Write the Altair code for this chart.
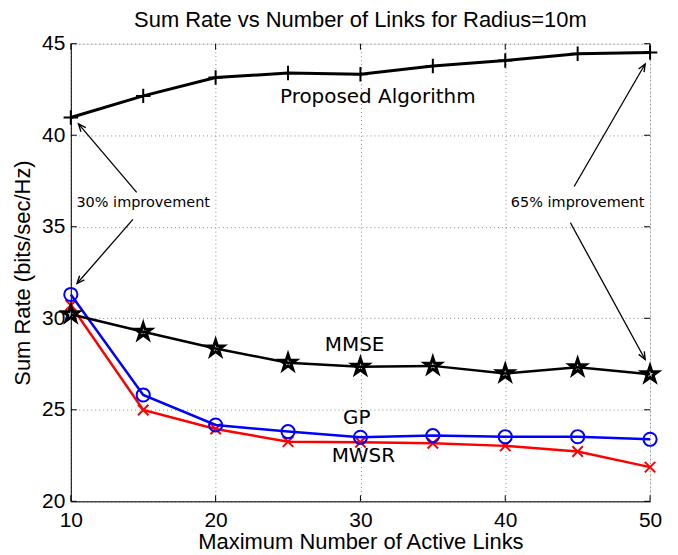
import math
import altair as alt
import pandas as pd

# ---------------- data ----------------
links = [10, 15, 20, 25, 30, 35, 40, 45, 50]
proposed = [40.97, 42.15, 43.15, 43.40, 43.33, 43.78, 44.08, 44.45, 44.52]
mmse = [30.22, 29.26, 28.35, 27.57, 27.35, 27.40, 26.99, 27.32, 26.94]
gp = [31.30, 25.81, 24.17, 23.81, 23.50, 23.59, 23.53, 23.53, 23.39]
mwsr = [30.71, 24.99, 23.95, 23.26, 23.23, 23.17, 23.03, 22.72, 21.87]

series_names = ["Proposed Algorithm", "MMSE", "GP", "MWSR"]
x_ticks = [10, 20, 30, 40, 50]
y_ticks = [20, 25, 30, 35, 40, 45]

# annotation labels (text, x, y in data units)
label_text = ["Proposed Algorithm", "MMSE", "GP", "MWSR", "30% improvement", "65% improvement"]
label_x = [31.2, 29.6, 29.75, 30.2, 15.0, 45.0]
label_y = [42.08, 28.53, 24.55, 22.48, 36.28, 36.28]
label_size = [20, 20, 20, 20, 14.5, 14.5]

# arrows (start -> tip, data units)
arrow_x1 = [14.55, 14.29, 44.76, 44.50]
arrow_y1 = [36.88, 35.40, 37.20, 35.22]
arrow_x2 = [10.53, 10.43, 49.66, 49.66]
arrow_y2 = [40.62, 31.90, 43.89, 27.75]

# ---------------- layout ----------------
W, H = 581, 459
X_DOM = [10, 50]
Y_DOM = [20, 45]
FONT = "Liberation Sans"

xs = alt.Scale(domain=X_DOM, nice=False, zero=False)
ys = alt.Scale(domain=Y_DOM, nice=False, zero=False)

rows = []
for name, vals in zip(series_names, [proposed, mmse, gp, mwsr]):
    for l, v in zip(links, vals):
        rows.append({"series": name, "links": l, "rate": v})
df = pd.DataFrame(rows)

x_axis = alt.Axis(values=x_ticks, title="Maximum Number of Active Links", ticks=False,
                  labelPadding=8, labelFont=FONT, labelFontSize=21, labelColor="black",
                  labelFlush=False, titleFont=FONT, titleFontSize=22, titleFontWeight="normal",
                  titleColor="black", titlePadding=1, grid=True, gridColor="#8a8a8a",
                  gridDash=[1, 3], gridWidth=1, domainColor="black", domainWidth=1,
                  format="d")
y_axis = alt.Axis(values=y_ticks, title="Sum Rate (bits/sec/Hz)", ticks=False,
                  labelPadding=6, labelFont=FONT, labelFontSize=21, labelColor="black",
                  labelFlush=False, titleFont=FONT, titleFontSize=22, titleFontWeight="normal",
                  titleColor="black", titlePadding=7, grid=True, gridColor="#8a8a8a",
                  gridDash=[1, 3], gridWidth=1, domainColor="black", domainWidth=1,
                  format="d")


def X(field):
    return alt.X(field, scale=xs, axis=x_axis)


def Y(field):
    return alt.Y(field, scale=ys, axis=y_axis)


base = alt.Chart(df)

styles = {
    "Proposed Algorithm": dict(color="#000000", width=3.0, shape="M -1 0 L 1 0 M 0 -1 L 0 1",
                               size=210, sw=2),
    "MMSE": dict(color="#000000", width=2.5,
                 shape="M 0 -1 L 0.2245 -0.309 L 0.951 -0.309 L 0.363 0.118 L 0.588 0.809 L 0 0.382 L -0.588 0.809 L -0.363 0.118 L -0.951 -0.309 L -0.2245 -0.309 Z",
                 size=270, sw=3),
    "GP": dict(color="#0000ff", width=2.5, shape="circle", size=175, sw=2),
    "MWSR": dict(color="#ff0000", width=2.5, shape="M -1 -1 L 1 1 M -1 1 L 1 -1", size=110, sw=2),
}

layers = []

# inward tick marks
xt = pd.DataFrame({"t": x_ticks})
yt = pd.DataFrame({"t": y_ticks})
for y0, y1 in [(H, H - 6), (0, 6)]:
    layers.append(alt.Chart(xt).mark_rule(color="black", strokeWidth=1).encode(
        x=X("t:Q"), y=alt.value(y0), y2=alt.value(y1)))
for x0, x1 in [(0, 6), (W, W - 6)]:
    layers.append(alt.Chart(yt).mark_rule(color="black", strokeWidth=1).encode(
        y=Y("t:Q"), x=alt.value(x0), x2=alt.value(x1)))

for name in ["MWSR", "GP", "MMSE", "Proposed Algorithm"]:
    st = styles[name]
    sub = base.transform_filter(alt.datum.series == name)
    layers.append(sub.mark_line(color=st["color"], strokeWidth=st["width"]).encode(
        x=X("links:Q"), y=Y("rate:Q")))
    layers.append(sub.mark_point(shape=st["shape"], size=st["size"], filled=False,
                                 color=st["color"], strokeWidth=st["sw"], opacity=1,
                                 strokeJoin="miter").encode(
        x=X("links:Q"), y=Y("rate:Q")))

# annotation text
lab_df = pd.DataFrame({"text": label_text, "x": label_x, "y": label_y, "size": label_size})
for sz in sorted(set(label_size)):
    layers.append(alt.Chart(lab_df).transform_filter(alt.datum.size == sz).mark_text(
        font="DejaVu Sans", fontSize=sz, color="black", align="center", baseline="middle").encode(
        x=X("x:Q"), y=Y("y:Q"), text="text:N"))

# arrows
ang = []
for a, b, c, d in zip(arrow_x1, arrow_y1, arrow_x2, arrow_y2):
    dx = (c - a) * W / (X_DOM[1] - X_DOM[0])
    dy = -(d - b) * H / (Y_DOM[1] - Y_DOM[0])
    ang.append(math.degrees(math.atan2(dx, -dy)) % 360)
arr_df = pd.DataFrame({"x1": arrow_x1, "y1": arrow_y1, "x2": arrow_x2, "y2": arrow_y2, "angle": ang})
layers.append(alt.Chart(arr_df).mark_rule(color="black", strokeWidth=1.3).encode(
    x=X("x1:Q"), y=Y("y1:Q"), x2="x2:Q", y2="y2:Q"))
layers.append(alt.Chart(arr_df).mark_point(shape="M -0.42 1 L 0 0 L 0.42 1", size=230, filled=False,
                                           color="black", strokeWidth=1.4, opacity=1).encode(
    x=X("x2:Q"), y=Y("y2:Q"), angle=alt.Angle("angle:Q", scale=None)))

chart = alt.layer(*layers).properties(
    width=W, height=H,
    title=alt.TitleParams("Sum Rate vs Number of Links for Radius=10m", font=FONT, fontSize=22,
                          fontWeight="normal", color="black", anchor="middle", offset=1),
    autosize=alt.AutoSizeParams(type="none"),
    padding={"left": 63, "top": 35, "right": 20, "bottom": 52},
).configure_view(stroke="black", strokeWidth=1).configure(background="white")

chart.save("out.html", embed_options={"renderer": "svg", "actions": False})
